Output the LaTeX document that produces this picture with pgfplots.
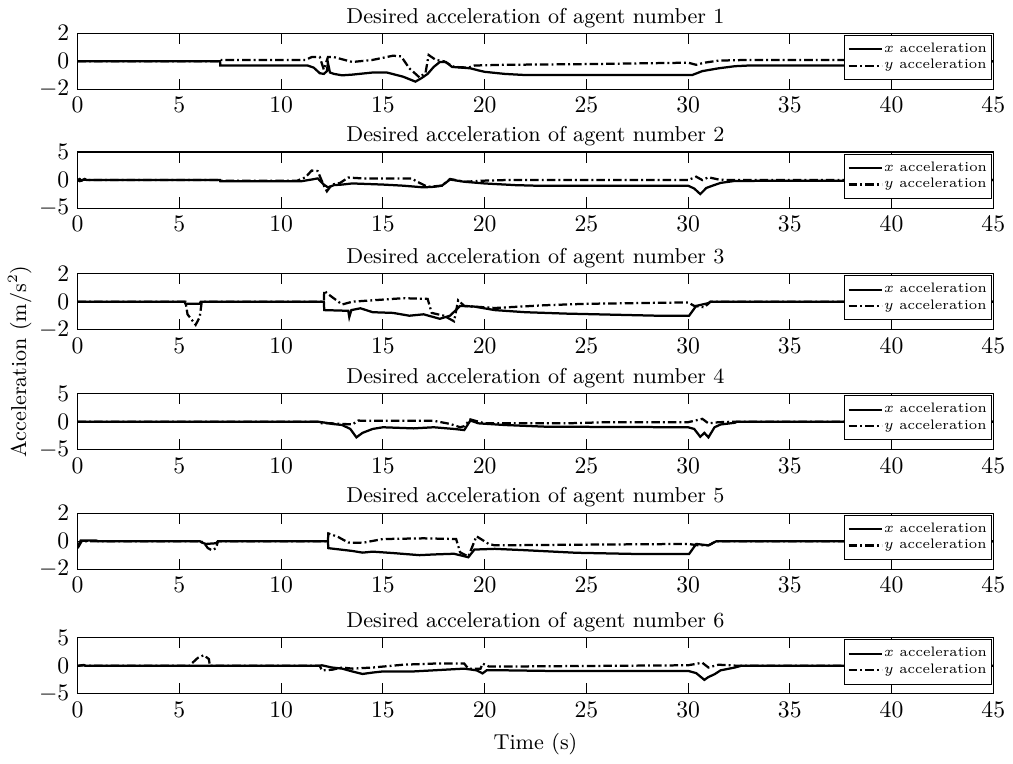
\documentclass[border=0pt]{standalone}
\usepackage{pgfplots}
\pgfplotsset{compat=1.18}

\pgfplotsset{
  accax/.style={
    scale only axis, width=387pt, height=23.7pt,
    anchor=north west,
    xmin=0, xmax=45, xtick={0,5,...,45},
    tick align=inside, xtick pos=both, ytick pos=both,
    xticklabel pos=bottom, yticklabel pos=left,
    major tick length=4.5pt,
    tick style={black, line width=0.4pt},
    axis line style={black, line width=0.5pt},
    title style={yshift=-7.1pt, font=\fontsize{9.1}{11}\selectfont},
    label style={font=\fontsize{9.1}{11}\selectfont},
    legend cell align=left,
    legend style={font=\fontsize{5.8}{6.8}\selectfont, at={(0.998,0.97)},
                  anchor=north east, draw=black, line width=0.4pt,
                  inner xsep=1.2pt, inner ysep=2.6pt, row sep=0.4pt,
                  nodes={inner sep=0.5pt}},
    legend image code/.code={\draw[#1] (0pt,0pt) -- (14pt,0pt);},
    legend image post style={line width=0.9pt},
  },
  sm/.style={accax, ymin=-2, ymax=2, ytick={-2,0,2}},
  lg/.style={accax, ymin=-5, ymax=5, ytick={-5,0,5}},
  xacc/.style={black, line width=0.95pt},
  yacc/.style={black, line width=0.95pt,
               dash pattern=on 3.6pt off 1.3pt on 0.8pt off 1.3pt},
}

\begin{document}
\begin{tikzpicture}

\begin{axis}[sm, at={(0,0)}, title={Desired acceleration of agent number 1}]
\addplot[xacc] coordinates {(0,0) (7,0) (7.01,-0.3) (11.3,-0.3) (11.6,-0.45) (11.9,-0.85) (12.1,-0.9) (12.25,-0.7) (12.3,-0.1) (12.4,-0.8) (12.6,-0.9) (13,-1.0) (13.5,-0.95) (14.5,-0.8) (15.2,-0.8) (16,-1.1) (16.6,-1.45) (16.9,-1.2) (17.2,-0.9) (17.5,-0.4) (17.8,-0.05) (18.1,-0.05) (18.4,-0.4) (19.3,-0.5) (19.7,-0.65) (20,-0.75) (21,-0.9) (22,-0.98) (30.2,-0.98) (30.7,-0.7) (31.5,-0.5) (32.3,-0.35) (33,-0.3) (38.4,-0.3) (38.5,0) (45,0)};
\addlegendentry{$x$ acceleration}
\addplot[yacc] coordinates {(0,0) (7,0) (7.01,0.1) (11.2,0.1) (11.5,0.3) (11.9,0.3) (12.1,-0.6) (12.3,0.3) (12.6,0.3) (13.5,-0.05) (14.5,0.1) (15.5,0.4) (15.9,0.35) (16.3,-0.5) (16.8,-1.15) (17.1,-0.8) (17.25,0.45) (17.6,0.1) (18,0) (18.5,-0.4) (19.2,-0.45) (19.5,-0.3) (21,-0.25) (25,-0.2) (30,-0.1) (30.4,-0.25) (30.8,-0.1) (31.5,0.05) (33,0.1) (38.4,0.1) (38.5,0) (45,0)};
\addlegendentry{$y$ acceleration}
\end{axis}

\begin{axis}[lg, at={(0,-50.2pt)}, title={Desired acceleration of agent number 2}]
\addplot[xacc] coordinates {(0,0) (0.1,0.2) (0.2,-0.1) (0.35,0.2) (0.45,0) (7,0) (7.01,-0.2) (11,-0.2) (11.5,0.1) (11.8,0.3) (12.1,-0.8) (12.3,-1.3) (12.6,-0.9) (13,-0.8) (13.5,-0.6) (15,-0.8) (16,-1.0) (17,-1.3) (17.5,-1.2) (17.9,-1.0) (18.3,0.1) (19,-0.3) (20,-0.6) (21.5,-0.9) (22.5,-1.0) (30,-1.0) (30.3,-1.5) (30.6,-2.5) (30.9,-1.4) (31.2,-1.0) (31.6,-0.5) (32.3,-0.15) (38.5,-0.1) (38.6,0) (45,0)};
\addlegendentry{$x$ acceleration}
\addplot[yacc] coordinates {(0,0) (0.1,-0.2) (0.3,0.1) (0.45,0) (7,0) (7.01,-0.1) (10.8,-0.1) (11.2,0.5) (11.5,1.7) (11.8,1.6) (12.1,-1.0) (12.25,-2.0) (12.5,-0.8) (12.9,-0.5) (13.3,0.45) (14,0.3) (16.4,0.3) (16.8,-0.5) (17.2,-1.2) (17.9,-1.0) (18.3,0.2) (19,-0.3) (20,-0.1) (21,0) (30,0) (30.4,0.6) (30.7,0) (31,0.5) (31.5,0.1) (32,0) (45,0)};
\addlegendentry{$y$ acceleration}
\end{axis}

\begin{axis}[sm, at={(0,-101.6pt)}, name=a3, title={Desired acceleration of agent number 3}]
\addplot[xacc] coordinates {(0,0) (5.25,0) (5.3,-0.15) (6.0,-0.15) (6.05,0) (12.1,0) (12.12,-0.6) (13.3,-0.65) (13.35,-1.1) (13.45,-0.6) (13.9,-0.47) (14.5,-0.75) (15.5,-0.8) (16.3,-1.0) (17,-0.9) (17.8,-1.22) (18.3,-1.0) (18.8,-0.3) (19.5,-0.35) (20.5,-0.6) (22,-0.75) (24,-0.85) (28.5,-1.0) (30.05,-1.0) (30.4,-0.3) (31,-0.1) (31.1,0) (45,0)};
\addlegendentry{$x$ acceleration}
\addplot[yacc] coordinates {(0,0) (5.3,0) (5.4,-0.9) (5.8,-1.65) (6.0,-1.1) (6.1,0) (12.1,0) (12.12,0.8) (12.3,0.55) (13,-0.2) (13.5,0) (14,0.05) (16,0.25) (17.2,0.2) (17.4,-0.8) (18,-1.0) (18.5,-1.4) (18.7,0.1) (19,-0.3) (20.5,-0.45) (23,-0.25) (25,-0.15) (30,-0.05) (30.3,-0.3) (30.8,-0.4) (31.1,0) (45,0)};
\addlegendentry{$y$ acceleration}
\end{axis}

\begin{axis}[lg, at={(0,-152.3pt)}, title={Desired acceleration of agent number 4}]
\addplot[xacc] coordinates {(0,0) (11.8,0) (12.2,-0.2) (12.5,-0.4) (13,-0.6) (13.4,-1.3) (13.7,-2.8) (14,-2.0) (14.5,-1.3) (15,-1.0) (16.5,-1.2) (17.5,-1.0) (18.5,-1.3) (19,-1.5) (19.3,0.2) (19.7,-0.3) (21,-0.6) (23,-0.9) (30,-1.0) (30.3,-1.3) (30.6,-2.7) (30.8,-2.0) (31,-2.8) (31.3,-1.0) (31.6,-0.5) (32.3,-0.2) (32.4,0) (45,0)};
\addlegendentry{$x$ acceleration}
\addplot[yacc] coordinates {(0,0) (11.8,0) (12,-0.3) (12.5,-0.3) (13.5,-0.5) (13.8,0.2) (14,0.15) (17.5,0.15) (18.3,-0.4) (18.8,-1.0) (19,-0.8) (19.3,0.4) (20,-0.3) (24,-0.3) (26,-0.1) (30,-0.1) (30.7,0.5) (31,-0.3) (31.5,-0.1) (32.3,0) (45,0)};
\addlegendentry{$y$ acceleration}
\end{axis}

\begin{axis}[sm, at={(0,-202.8pt)}, title={Desired acceleration of agent number 5}]
\addplot[xacc] coordinates {(0,-0.4) (0.15,0.05) (0.9,0.05) (1,0) (6,0) (6.1,-0.1) (6.3,-0.2) (6.8,-0.15) (6.9,0) (12.3,0) (12.32,-0.5) (13.5,-0.7) (14,-0.82) (14.5,-0.75) (15.5,-0.85) (16.8,-1.0) (17.5,-0.95) (18.5,-0.9) (19.2,-1.15) (19.5,-0.6) (20.5,-0.55) (21.9,-0.64) (24.5,-0.83) (27.6,-0.92) (30.05,-0.92) (30.4,-0.2) (31,-0.3) (31.4,0) (45,0)};
\addlegendentry{$x$ acceleration}
\addplot[yacc] coordinates {(0,-0.5) (0.2,0) (6,0) (6.2,-0.1) (6.4,-0.5) (6.6,-0.65) (6.8,-0.5) (6.9,0) (12.3,0) (12.32,0.55) (12.8,0.3) (13.3,-0.1) (14,-0.12) (15,0.15) (17,0.2) (18.6,0.15) (18.8,-0.8) (19.2,-1.1) (19.6,0.35) (20.2,-0.2) (20.5,-0.3) (25,-0.25) (30,-0.2) (30.5,-0.3) (31,-0.3) (31.4,0) (45,0)};
\addlegendentry{$y$ acceleration}
\end{axis}

\begin{axis}[lg, at={(0,-255.5pt)}, title={Desired acceleration of agent number 6}, xlabel={Time (s)}]
\addplot[xacc] coordinates {(0,0) (0.3,0.15) (0.4,0) (11.9,0) (12,0.1) (12.5,-0.3) (13,-0.5) (13.5,-1.0) (14,-1.45) (14.5,-1.2) (15,-1.0) (16.5,-1.0) (17.5,-0.8) (19,-0.5) (19.6,-0.8) (19.9,-1.35) (20.1,-0.8) (21,-0.8) (23,-0.9) (30,-0.9) (30.4,-1.3) (30.8,-2.5) (31,-2.0) (31.3,-1.5) (31.6,-0.8) (32.3,-0.3) (32.6,0) (45,0)};
\addlegendentry{$x$ acceleration}
\addplot[yacc] coordinates {(0,0) (0.3,0.1) (0.4,0) (5.5,0) (5.6,0.4) (5.9,1.4) (6.2,1.9) (6.45,1.2) (6.5,0) (11.9,0) (12,-0.8) (12.5,-0.7) (13,-0.3) (13.5,-0.5) (14.5,-0.3) (16,0.2) (17.5,0.4) (19,0.4) (19.2,-0.5) (19.8,-0.5) (19.9,0.4) (20.2,-0.1) (22,-0.1) (30,0.1) (30.7,0.55) (31,-0.3) (31.5,0.2) (32.5,0) (45,0)};
\addlegendentry{$y$ acceleration}
\end{axis}

\node[rotate=90, anchor=center, font=\fontsize{9.1}{11}\selectfont] at ([xshift=-24.5pt, yshift=-13.4pt]a3.south west) {Acceleration (m/s$^2$)};

\end{tikzpicture}
\end{document}
